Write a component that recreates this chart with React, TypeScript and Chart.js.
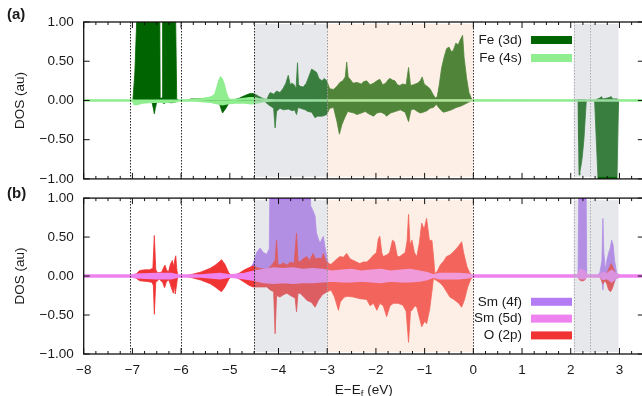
import React, { useEffect, useRef } from 'react';
import { Chart, registerables } from 'chart.js';
Chart.register(...registerables);

type P = [number, number][];

const FONT = '"Liberation Sans", Arial, Helvetica, sans-serif';
const INK = '#1a1a1a';

// ---------- data: panel (a) Fe ----------
const fe3dUp: P = [
  [-8, 0], [-6.99, 0], [-6.95, 0.35], [-6.89, 1.4], [-6.44, 1.4], [-6.43, 0.03], [-6.39, 0.03], [-6.38, 1.4],
  [-6.12, 1.4], [-6.09, 0.02], [-6.05, 0], [-5.85, 0], [-5.8, 0.02], [-5.6, 0.02], [-5.45, 0.03], [-5.3, 0.03],
  [-5.2, 0.01], [-5.0, 0.005], [-4.93, 0.005], [-4.8, 0.03], [-4.7, 0.06], [-4.6, 0.085], [-4.55, 0.09],
  [-4.48, 0.08], [-4.4, 0.05], [-4.3, 0.02], [-4.24, 0.01], [-4.2, 0.07], [-4.17, 0.1], [-4.1, 0.08],
  [-4.04, 0.12], [-3.97, 0.1], [-3.9, 0.16], [-3.85, 0.22], [-3.8, 0.32], [-3.76, 0.2], [-3.73, 0.22],
  [-3.68, 0.2], [-3.64, 0.15], [-3.61, 0.48], [-3.59, 0.2], [-3.55, 0.18], [-3.49, 0.17], [-3.43, 0.22],
  [-3.38, 0.3], [-3.32, 0.4], [-3.27, 0.38], [-3.22, 0.36], [-3.17, 0.28], [-3.11, 0.25], [-3.06, 0.28],
  [-3.01, 0.25], [-2.95, 0.15], [-2.87, 0.14], [-2.8, 0.18], [-2.74, 0.23], [-2.68, 0.25], [-2.63, 0.3],
  [-2.6, 0.49], [-2.57, 0.3], [-2.53, 0.27], [-2.47, 0.22], [-2.39, 0.23], [-2.3, 0.21], [-2.25, 0.24],
  [-2.19, 0.25], [-2.12, 0.2], [-2.05, 0.22], [-1.98, 0.25], [-1.92, 0.27], [-1.86, 0.2], [-1.8, 0.22],
  [-1.74, 0.27], [-1.71, 0.28], [-1.66, 0.26], [-1.61, 0.25], [-1.56, 0.2], [-1.51, 0.19], [-1.45, 0.21],
  [-1.38, 0.2], [-1.33, 0.42], [-1.29, 0.19], [-1.23, 0.2], [-1.15, 0.22], [-1.09, 0.25], [-1.05, 0.3],
  [-1.01, 0.21], [-0.95, 0.18], [-0.89, 0.15], [-0.83, 0.08], [-0.78, 0.03], [-0.74, 0.05], [-0.7, 0.2],
  [-0.65, 0.42], [-0.6, 0.55], [-0.55, 0.66], [-0.5, 0.68], [-0.45, 0.62], [-0.41, 0.64], [-0.36, 0.73],
  [-0.31, 0.71], [-0.27, 0.77], [-0.22, 0.83], [-0.19, 0.55], [-0.14, 0.29], [-0.09, 0.1], [-0.03, 0.01],
  [0, 0], [2.1, 0], [2.15, 0.01], [2.3, 0.01], [2.32, 0], [2.5, 0], [2.55, 0.02], [2.6, 0.03], [2.63, 0.05],
  [2.66, 0.02], [2.75, 0.03], [2.8, 0.04], [2.83, 0.05], [2.86, 0.02], [2.95, 0.02], [2.97, 0], [3.5, 0],
];
const fe3dDown: P = [
  [-8, 0], [-6.98, 0], [-6.9, -0.01], [-6.6, -0.02], [-6.57, -0.1], [-6.55, -0.17], [-6.53, -0.1],
  [-6.5, -0.02], [-6.4, -0.02], [-6.35, -0.04], [-6.3, -0.02], [-6.2, -0.03], [-6.12, -0.02], [-6.08, 0],
  [-5.3, 0], [-5.22, -0.03], [-5.15, -0.16], [-5.08, -0.1], [-5.0, -0.01], [-4.9, 0], [-4.3, 0],
  [-4.22, -0.05], [-4.17, -0.07], [-4.1, -0.1], [-4.07, -0.35], [-4.04, -0.14], [-3.97, -0.1], [-3.9, -0.12],
  [-3.8, -0.11], [-3.72, -0.13], [-3.67, -0.12], [-3.63, -0.18], [-3.6, -0.09], [-3.55, -0.1], [-3.45, -0.12],
  [-3.4, -0.14], [-3.32, -0.15], [-3.25, -0.22], [-3.2, -0.2], [-3.1, -0.2], [-3.01, -0.18], [-2.95, -0.1],
  [-2.87, -0.09], [-2.8, -0.27], [-2.75, -0.43], [-2.7, -0.31], [-2.64, -0.22], [-2.58, -0.14], [-2.52, -0.15],
  [-2.45, -0.16], [-2.39, -0.18], [-2.3, -0.16], [-2.22, -0.14], [-2.15, -0.17], [-2.05, -0.2], [-1.98, -0.16],
  [-1.9, -0.15], [-1.83, -0.17], [-1.78, -0.2], [-1.7, -0.16], [-1.6, -0.14], [-1.5, -0.12], [-1.4, -0.15],
  [-1.33, -0.27], [-1.28, -0.12], [-1.22, -0.11], [-1.15, -0.14], [-1.09, -0.16], [-1.03, -0.15],
  [-0.95, -0.13], [-0.89, -0.1], [-0.82, -0.09], [-0.76, -0.05], [-0.7, -0.1], [-0.62, -0.15], [-0.55, -0.14],
  [-0.45, -0.12], [-0.35, -0.09], [-0.25, -0.07], [-0.12, -0.03], [-0.03, 0], [2.15, 0], [2.16, -0.5],
  [2.17, -0.95], [2.19, -0.9], [2.22, -0.8], [2.24, -0.7], [2.27, -0.5], [2.3, -0.2], [2.32, 0], [2.49, 0],
  [2.58, -1.3], [2.94, -1.3], [2.98, 0], [3.5, 0],
];
const fe4sUp: P = [
  [-8, 0], [-5.9, 0], [-5.8, 0.005], [-5.6, 0.015], [-5.45, 0.03], [-5.35, 0.05], [-5.3, 0.08], [-5.26, 0.16],
  [-5.22, 0.25], [-5.19, 0.29], [-5.16, 0.27], [-5.12, 0.2], [-5.08, 0.1], [-5.04, 0.03], [-5.0, 0.01],
  [-4.9, 0.01], [-4.75, 0.02], [-4.6, 0.03], [-4.5, 0.03], [-4.4, 0.02], [-4.25, 0.01], [-4.1, 0.005], [3.5, 0],
];
const fe4sDown: P = [
  [-8, 0], [-6.99, 0], [-6.96, -0.05], [-6.9, -0.05], [-6.8, -0.03], [-6.6, -0.02], [-6.3, -0.02],
  [-6.1, -0.015], [-6.05, 0], [-5.7, -0.005], [-5.4, -0.02], [-5.25, -0.04], [-5.15, -0.05], [-5.05, -0.04],
  [-4.9, -0.03], [-4.7, -0.03], [-4.55, -0.04], [-4.45, -0.03], [-4.3, -0.01], [-4.1, -0.005], [3.5, 0],
];

// ---------- data: panel (b) Sm / O ----------
const sm4fUp: P = [
  [-8, 0], [-4.75, 0], [-4.65, 0.04], [-4.58, 0.1], [-4.52, 0.16], [-4.45, 0.3], [-4.38, 0.36], [-4.31, 0.3],
  [-4.24, 0.28], [-4.19, 0.35], [-4.17, 1.5], [-3.36, 1.5], [-3.34, 0.9], [-3.3, 0.85], [-3.25, 0.77],
  [-3.22, 0.55], [-3.15, 0.42], [-3.08, 0.51], [-3.04, 0.35], [-3.01, 0.25], [-2.96, 0.12], [-2.9, 0.05],
  [-2.8, 0.02], [-2.0, 0.01], [0, 0], [2.15, 0], [2.17, 1.5], [2.31, 1.5], [2.33, 0], [2.55, 0], [2.6, 0.05],
  [2.64, 0.2], [2.66, 0.74], [2.68, 0.3], [2.71, 0.08], [2.74, 0.2], [2.78, 0.3], [2.81, 0.36], [2.84, 0.46],
  [2.87, 0.4], [2.9, 0.2], [2.94, 0.05], [2.97, 0], [3.5, 0],
];
const sm4fDown: P = [
  [-8, 0], [2.6, 0], [2.64, -0.05], [2.66, -0.18], [2.68, -0.05], [2.75, -0.08], [2.82, -0.16], [2.88, -0.1],
  [2.94, -0.02], [2.97, 0], [3.5, 0],
];
const sm5dUp: P = [
  [-8, 0.01], [-7, 0.01], [-6.95, 0.02], [-6.5, 0.03], [-6.2, 0.03], [-6.07, 0.01], [-5.6, 0.01], [-5.2, 0.03],
  [-5.0, 0.01], [-4.7, 0.03], [-4.5, 0.06], [-4.3, 0.08], [-4.1, 0.1], [-3.9, 0.09], [-3.7, 0.1], [-3.5, 0.08],
  [-3.3, 0.09], [-3.1, 0.08], [-2.9, 0.06], [-2.7, 0.07], [-2.5, 0.08], [-2.3, 0.06], [-2.1, 0.07], [-1.9, 0.08],
  [-1.7, 0.06], [-1.5, 0.07], [-1.3, 0.08], [-1.1, 0.06], [-0.95, 0.04], [-0.82, 0.01], [-0.7, 0.03],
  [-0.5, 0.03], [-0.3, 0.03], [-0.1, 0.02], [0, 0.01], [2.15, 0.01], [2.2, 0.08], [2.28, 0.06], [2.32, 0.01],
  [2.6, 0.01], [2.66, 0.04], [2.75, 0.03], [2.84, 0.07], [2.92, 0.03], [3.0, 0.01], [3.5, 0.01],
];
const sm5dDown: P = [
  [-8, -0.01], [-7, -0.01], [-6.95, -0.02], [-6.5, -0.03], [-6.2, -0.03], [-6.07, -0.01], [-5.6, -0.01],
  [-5.2, -0.03], [-5.0, -0.01], [-4.7, -0.03], [-4.5, -0.05], [-4.3, -0.08], [-4.1, -0.09], [-3.9, -0.08],
  [-3.7, -0.09], [-3.5, -0.08], [-3.3, -0.08], [-3.1, -0.07], [-2.9, -0.06], [-2.7, -0.07], [-2.5, -0.07],
  [-2.3, -0.06], [-2.1, -0.07], [-1.9, -0.08], [-1.7, -0.06], [-1.5, -0.07], [-1.3, -0.07], [-1.1, -0.06],
  [-0.95, -0.04], [-0.82, -0.01], [-0.7, -0.03], [-0.5, -0.03], [-0.3, -0.03], [-0.1, -0.02], [0, -0.01],
  [2.15, -0.01], [2.2, -0.03], [2.28, -0.03], [2.32, -0.01], [2.6, -0.01], [2.66, -0.04], [2.75, -0.03],
  [2.84, -0.07], [2.92, -0.03], [3.0, -0.01], [3.5, -0.01],
];
const o2pUp: P = [
  [-8, 0], [-6.97, 0], [-6.92, 0.03], [-6.85, 0.07], [-6.75, 0.08], [-6.65, 0.08], [-6.58, 0.1], [-6.55, 0.52],
  [-6.52, 0.08], [-6.48, 0.04], [-6.4, 0.05], [-6.35, 0.12], [-6.33, 0.14], [-6.3, 0.08], [-6.26, 0.05],
  [-6.22, 0.15], [-6.18, 0.2], [-6.15, 0.12], [-6.13, 0.21], [-6.11, 0.26], [-6.09, 0.1], [-6.07, 0],
  [-5.95, 0], [-5.85, 0.01], [-5.6, 0.05], [-5.4, 0.1], [-5.3, 0.14], [-5.22, 0.18], [-5.17, 0.21],
  [-5.1, 0.15], [-5.02, 0.04], [-4.97, 0.01], [-4.9, 0.01], [-4.8, 0.04], [-4.7, 0.08], [-4.6, 0.11],
  [-4.52, 0.13], [-4.48, 0.12], [-4.4, 0.1], [-4.3, 0.09], [-4.24, 0.08], [-4.14, 0.14], [-4.07, 0.2],
  [-4.04, 0.46], [-4.01, 0.15], [-3.97, 0.14], [-3.9, 0.17], [-3.83, 0.14], [-3.75, 0.18], [-3.68, 0.16],
  [-3.63, 0.55], [-3.6, 0.2], [-3.56, 0.18], [-3.5, 0.22], [-3.42, 0.25], [-3.36, 0.2], [-3.29, 0.29],
  [-3.24, 0.22], [-3.18, 0.23], [-3.12, 0.22], [-3.08, 0.29], [-3.03, 0.2], [-2.98, 0.16], [-2.92, 0.15],
  [-2.87, 0.18], [-2.8, 0.22], [-2.74, 0.25], [-2.67, 0.24], [-2.6, 0.29], [-2.53, 0.22], [-2.46, 0.2],
  [-2.4, 0.18], [-2.33, 0.16], [-2.26, 0.18], [-2.19, 0.18], [-2.12, 0.22], [-2.05, 0.27], [-1.99, 0.3],
  [-1.95, 0.48], [-1.92, 0.51], [-1.88, 0.3], [-1.85, 0.25], [-1.78, 0.27], [-1.72, 0.3], [-1.66, 0.46],
  [-1.62, 0.44], [-1.56, 0.25], [-1.51, 0.25], [-1.45, 0.28], [-1.4, 0.3], [-1.36, 0.45], [-1.33, 0.79],
  [-1.3, 0.4], [-1.26, 0.46], [-1.21, 0.3], [-1.16, 0.25], [-1.11, 0.42], [-1.06, 0.68], [-1.01, 0.6],
  [-0.96, 0.74], [-0.9, 0.45], [-0.85, 0.46], [-0.81, 0.2], [-0.79, 0.03], [-0.74, 0.06], [-0.68, 0.14],
  [-0.6, 0.2], [-0.55, 0.25], [-0.48, 0.27], [-0.41, 0.31], [-0.35, 0.35], [-0.31, 0.38], [-0.24, 0.44],
  [-0.2, 0.3], [-0.13, 0.12], [-0.08, 0.05], [-0.03, 0.01], [0, 0], [2.6, 0], [2.66, 0.03], [2.7, 0.02],
  [2.76, 0.06], [2.8, 0.12], [2.83, 0.16], [2.86, 0.12], [2.9, 0.06], [2.95, 0.01], [3.0, 0], [3.5, 0],
];
const o2pDown: P = [
  [-8, 0], [-6.97, 0], [-6.92, -0.03], [-6.85, -0.06], [-6.7, -0.07], [-6.6, -0.08], [-6.57, -0.12],
  [-6.55, -0.49], [-6.52, -0.08], [-6.45, -0.04], [-6.38, -0.08], [-6.34, -0.15], [-6.3, -0.07],
  [-6.25, -0.05], [-6.2, -0.15], [-6.16, -0.22], [-6.14, -0.12], [-6.12, -0.23], [-6.09, -0.1], [-6.07, 0],
  [-5.95, 0], [-5.85, -0.01], [-5.6, -0.05], [-5.4, -0.1], [-5.3, -0.14], [-5.22, -0.18], [-5.17, -0.2],
  [-5.1, -0.14], [-5.02, -0.04], [-4.97, -0.01], [-4.9, -0.01], [-4.8, -0.04], [-4.7, -0.08], [-4.6, -0.12],
  [-4.52, -0.14], [-4.48, -0.14], [-4.35, -0.14], [-4.24, -0.14], [-4.17, -0.18], [-4.1, -0.2], [-4.07, -0.74],
  [-4.04, -0.25], [-3.97, -0.27], [-3.9, -0.24], [-3.83, -0.22], [-3.73, -0.26], [-3.66, -0.28], [-3.63, -0.46],
  [-3.6, -0.22], [-3.56, -0.22], [-3.48, -0.27], [-3.42, -0.31], [-3.32, -0.34], [-3.25, -0.4], [-3.18, -0.31],
  [-3.1, -0.24], [-3.0, -0.2], [-2.92, -0.18], [-2.85, -0.27], [-2.77, -0.44], [-2.73, -0.33], [-2.65, -0.27],
  [-2.58, -0.26], [-2.46, -0.27], [-2.33, -0.29], [-2.19, -0.3], [-2.12, -0.38], [-2.05, -0.35], [-1.98, -0.44],
  [-1.92, -0.35], [-1.85, -0.38], [-1.78, -0.52], [-1.71, -0.38], [-1.64, -0.35], [-1.55, -0.35], [-1.45, -0.37],
  [-1.38, -0.45], [-1.33, -0.85], [-1.29, -0.45], [-1.26, -0.44], [-1.2, -0.38], [-1.16, -0.4], [-1.1, -0.55],
  [-1.06, -0.65], [-1.0, -0.58], [-0.96, -0.61], [-0.9, -0.44], [-0.85, -0.2], [-0.82, -0.03], [-0.75, -0.06],
  [-0.68, -0.09], [-0.62, -0.13], [-0.55, -0.2], [-0.48, -0.27], [-0.4, -0.3], [-0.3, -0.35], [-0.24, -0.4],
  [-0.18, -0.3], [-0.12, -0.15], [-0.06, -0.05], [0, 0], [2.15, 0], [2.17, -0.04], [2.2, -0.06], [2.27, -0.06],
  [2.3, -0.04], [2.32, 0], [2.58, 0], [2.62, -0.04], [2.66, -0.1], [2.7, -0.06], [2.74, -0.1], [2.78, -0.18],
  [2.82, -0.2], [2.86, -0.15], [2.9, -0.06], [2.95, -0.01], [3.0, 0], [3.5, 0],
];

// ---------- axes / annotations ----------
const xRange = [-8, 3.5];
const yTicks = [-1, -0.5, 0, 0.5, 1];
const shadedBands = [
  { from: -4.5, to: -3, color: 'rgba(178,184,197,0.32)' },
  { from: -3, to: 0, color: 'rgba(249,205,177,0.32)' },
  { from: 2.06, to: 2.98, color: 'rgba(178,184,197,0.32)' },
];
const markerLines = [
  { x: -7.04, color: '#222' },
  { x: -6, color: '#222' },
  { x: -4.5, color: '#222' },
  { x: -3, color: '#999' },
  { x: 0, color: '#333' },
  { x: 2.06, color: '#aaa' },
  { x: 2.39, color: '#aaa' },
];

const COLORS = {
  fe3d: '#006400',
  fe4s: '#90ee90',
  sm4f: '#b47cf4',
  sm5d: '#ee82ee',
  o2p: '#f03434',
};

const minus = (s: string) => s.replace('-', '\u2212');

const framePlugin = {
  id: 'frame',
  afterDatasetsDraw(chart: any, _args: any, o: any) {
    const { ctx, chartArea: a, scales } = chart;
    const x = scales.x, y = scales.y;
    ctx.save();
    for (const b of shadedBands) {
      const p0 = x.getPixelForValue(b.from), p1 = x.getPixelForValue(b.to);
      ctx.fillStyle = b.color;
      ctx.fillRect(p0, a.top + 2, p1 - p0, a.bottom - a.top - 4);
    }
    ctx.lineWidth = 1;
    ctx.setLineDash([1.5, 1.5]);
    for (const v of markerLines) {
      const px = Math.round(x.getPixelForValue(v.x)) + 0.5;
      ctx.strokeStyle = v.color;
      ctx.beginPath(); ctx.moveTo(px, a.top); ctx.lineTo(px, a.bottom); ctx.stroke();
    }
    ctx.setLineDash([]);
    ctx.strokeStyle = '#111';
    ctx.lineWidth = 1.3;
    ctx.strokeRect(a.left, a.top, a.right - a.left, a.bottom - a.top);
    ctx.lineWidth = 1;
    const seg = (x0: number, y0: number, x1: number, y1: number) => {
      ctx.beginPath(); ctx.moveTo(x0, y0); ctx.lineTo(x1, y1); ctx.stroke();
    };
    for (let k = 0; k <= 46; k++) {
      const v = xRange[0] + k * 0.25;
      const px = x.getPixelForValue(v);
      const major = Math.abs(v - Math.round(v)) < 1e-6;
      const len = major ? 6 : 3;
      seg(px, a.bottom, px, a.bottom - len);
      seg(px, a.top, px, a.top + len);
    }
    for (const v of yTicks) {
      const py = y.getPixelForValue(v);
      seg(a.left, py, a.left + 6, py);
      seg(a.right, py, a.right - 6, py);
    }
    // legend
    ctx.font = `13.5px ${FONT}`;
    ctx.textAlign = 'right';
    ctx.textBaseline = 'middle';
    o.legend.forEach((it: any, i: number) => {
      const cy = a.top + o.legendTop + i * o.legendGap;
      ctx.fillStyle = INK;
      ctx.fillText(it.text, 522, cy);
      ctx.fillStyle = it.color;
      ctx.fillRect(531, cy - 4, 41, 8);
    });
    // panel label
    ctx.fillStyle = INK;
    ctx.font = `bold 15px ${FONT}`;
    ctx.textAlign = 'left';
    ctx.textBaseline = 'alphabetic';
    ctx.fillText(o.label, 7, o.labelY);
    if (o.xTitle) {
      const f1 = `13.5px ${FONT}`, f2 = `9.5px ${FONT}`;
      ctx.font = f1;
      const w1 = ctx.measureText('E\u2212E').width;
      const w3 = ctx.measureText(' (eV)').width;
      ctx.font = f2;
      const w2 = ctx.measureText('f').width;
      const sx = (a.left + a.right) / 2 - (w1 + w2 + w3) / 2;
      ctx.font = f1; ctx.fillText('E\u2212E', sx, o.titleY);
      ctx.font = f2; ctx.fillText('f', sx + w1, o.titleY + 2.5);
      ctx.font = f1; ctx.fillText(' (eV)', sx + w1 + w2, o.titleY);
    }
    ctx.restore();
  },
};

const ds = (label: string, data: P, color: string, bw = 0.8) => ({
  label,
  data: data.map(([x, y]) => ({ x, y })),
  borderColor: color,
  backgroundColor: color,
  fill: 'origin',
  borderWidth: bw,
  pointRadius: 0,
  tension: 0,
});

const makeConfig = (panel: 'a' | 'b', top: number, bottomPad: number): any => {
  const isB = panel === 'b';
  const datasets = isB
    ? [
        ds('Sm (5d) up', sm5dUp, COLORS.sm5d, 2),
        ds('Sm (5d) down', sm5dDown, COLORS.sm5d, 2),
        ds('O (2p) up', o2pUp, COLORS.o2p),
        ds('O (2p) down', o2pDown, COLORS.o2p),
        ds('Sm (4f) up', sm4fUp, COLORS.sm4f),
        ds('Sm (4f) down', sm4fDown, COLORS.sm4f),
      ]
    : [
        ds('Fe (4s) up', fe4sUp, COLORS.fe4s, 2),
        ds('Fe (4s) down', fe4sDown, COLORS.fe4s, 2),
        ds('Fe (3d) up', fe3dUp, COLORS.fe3d),
        ds('Fe (3d) down', fe3dDown, COLORS.fe3d),
      ];
  const xScale: any = {
    type: 'linear',
    min: xRange[0],
    max: xRange[1],
    display: isB,
    grid: { display: false, drawTicks: false },
    border: { display: false },
    ticks: {
      stepSize: 1, includeBounds: false, padding: 8, maxRotation: 0, autoSkip: false,
      color: INK, font: { family: FONT, size: 13.5 },
      callback: (v: number) => minus(String(v)),
    },
  };
  if (isB) xScale.afterFit = (s: any) => { s.height = 30; };
  return {
    type: 'line',
    data: { datasets },
    plugins: [framePlugin],
    options: {
      animation: false,
      responsive: false,
      events: [],
      layout: { padding: { left: 0, right: 660 - 643.8, top, bottom: bottomPad } },
      plugins: {
        legend: { display: false },
        tooltip: { enabled: false },
        frame: isB
          ? {
              label: '(b)', labelY: 18, xTitle: true, titleY: 214,
              legendTop: 103.7, legendGap: 16.8,
              legend: [
                { text: 'Sm (4f)', color: COLORS.sm4f },
                { text: 'Sm (5d)', color: COLORS.sm5d },
                { text: 'O (2p)', color: COLORS.o2p },
              ],
            }
          : {
              label: '(a)', labelY: 19, xTitle: false,
              legendTop: 18, legendGap: 18,
              legend: [
                { text: 'Fe (3d)', color: COLORS.fe3d },
                { text: 'Fe (4s)', color: COLORS.fe4s },
              ],
            },
      },
      scales: {
        x: xScale,
        y: {
          type: 'linear',
          min: -1,
          max: 1,
          afterFit: (s: any) => { s.width = 83.7; },
          grid: { display: false, drawTicks: false },
          border: { display: false },
          ticks: {
            stepSize: 0.5, padding: 10, color: INK, font: { family: FONT, size: 13.5 },
            callback: (v: number) => minus(Number(v).toFixed(2)),
          },
          title: {
            display: true, text: 'DOS (au)', color: INK,
            font: { family: FONT, size: 13.5 }, padding: { top: 12.5, bottom: 0 },
          },
        },
      },
    },
  };
};

function Panel({ panel, top, height, padTop, padBottom }: any) {
  const ref = useRef<HTMLCanvasElement>(null);
  useEffect(() => {
    const chart = new Chart(ref.current as HTMLCanvasElement, makeConfig(panel, padTop, padBottom));
    return () => chart.destroy();
  }, []);
  return (
    <canvas
      ref={ref}
      width={660}
      height={height}
      style={{ position: 'absolute', left: 0, top, width: 660, height }}
    />
  );
}

export default function App() {
  return (
    <div style={{ position: 'fixed', left: 0, top: 0, width: 660, height: 396, overflow: 'hidden', background: '#fff' }}>
      <Panel panel="a" top={0} height={197} padTop={22} padBottom={8} />
      <Panel panel="b" top={180} height={216} padTop={18} padBottom={12} />
    </div>
  );
}
